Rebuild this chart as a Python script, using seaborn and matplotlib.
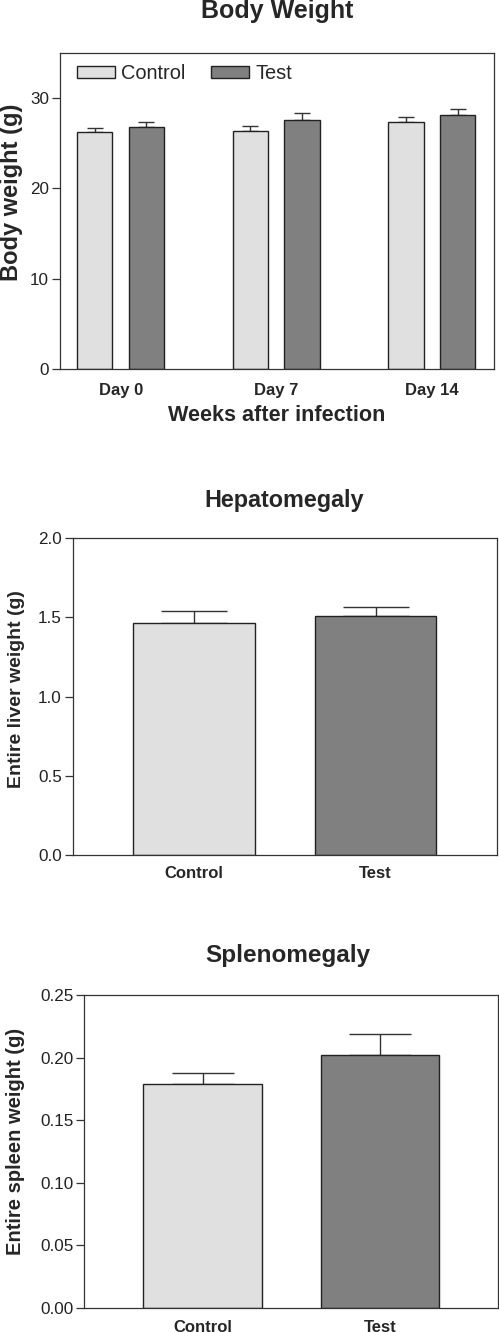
import matplotlib
matplotlib.use("Agg")
import matplotlib.pyplot as plt
import seaborn as sns
import pandas as pd
from matplotlib.ticker import FormatStrFormatter

# ---------------- data ----------------
days = ["Day 0", "Day 7", "Day 14"]
groups = ["Control", "Test"]
bw_control = [26.2, 26.4, 27.35]
bw_test = [26.85, 27.55, 28.15]
bw_control_err = [0.45, 0.5, 0.6]
bw_test_err = [0.55, 0.75, 0.65]

liver_values = [1.463, 1.507]
liver_err = [0.078, 0.059]

spleen_values = [0.179, 0.202]
spleen_err = [0.009, 0.017]

colors = {"Control": "#e0e0e0", "Test": "#808080"}
EDGE = "#222222"

sns.set_style("ticks")
plt.rcParams["font.family"] = ["Liberation Sans", "DejaVu Sans"]
plt.rcParams["axes.edgecolor"] = "#333333"
plt.rcParams["axes.linewidth"] = 0.9

W, H = 499, 1332
fig = plt.figure(figsize=(W / 100, H / 100), dpi=100)


def add_axes_px(x0, y0, x1, y1):
    return fig.add_axes([x0 / W, 1 - y1 / H, (x1 - x0) / W, (y1 - y0) / H])


def add_errs(ax, containers_vals, containers_errs, capsize):
    for cont, vals, errs in zip(ax.containers, containers_vals, containers_errs):
        for bar, v, e in zip(cont, vals, errs):
            xc = bar.get_x() + bar.get_width() / 2
            ax.errorbar([xc], [v], yerr=[[0], [e]], fmt="none", ecolor="#333333",
                        elinewidth=1.0, capsize=capsize, capthick=1.0, zorder=1)


def style_axis(ax):
    for s in ax.spines.values():
        s.set_visible(True)
        s.set_color("#333333")
        s.set_linewidth(0.9)
    ax.tick_params(axis="y", length=5.8, width=0.9, color="#333333", labelsize=12.3, pad=2, labelcolor="#222222")
    ax.tick_params(axis="x", length=0, labelsize=12, pad=9)
    for lab in ax.get_xticklabels():
        lab.set_fontweight("bold")


# ---------------- panel 1: body weight ----------------
df_bw = pd.DataFrame({
    "day": days * 2,
    "group": ["Control"] * 3 + ["Test"] * 3,
    "weight": bw_control + bw_test,
})
ax1 = add_axes_px(60, 53, 494, 369)
sns.barplot(data=df_bw, x="day", y="weight", hue="group", order=days, hue_order=groups,
            palette=colors, width=0.664, gap=0.32, edgecolor=EDGE, linewidth=1.0,
            errorbar=None, saturation=1, ax=ax1, zorder=2)
add_errs(ax1, [bw_control, bw_test], [bw_control_err, bw_test_err], capsize=6.1)
ax1.set_xlim(-0.39, 2.4)
ax1.set_ylim(0, 35)
ax1.set_yticks([0, 10, 20, 30])
ax1.set_xlabel("Weeks after infection", fontsize=15.6, fontweight="bold", labelpad=5)
ax1.set_ylabel("Body weight (g)", fontsize=17, fontweight="bold")
ax1.yaxis.set_label_coords(-0.085, 0.56)
style_axis(ax1)
ax1.tick_params(axis="x", pad=10)
handles, labels = ax1.get_legend_handles_labels()
ax1.legend(handles, labels, loc="center left", bbox_to_anchor=(0.039, 0.935), ncol=2,
           frameon=False, fontsize=14.4, handlelength=1.9, handleheight=0.5,
           handletextpad=0.3, columnspacing=1.3, borderpad=0, borderaxespad=0)
fig.text(277 / W, 1 - 18.3 / H, "Body Weight", ha="center", va="baseline",
         fontsize=18, fontweight="bold")

# ---------------- panel 2: hepatomegaly ----------------
df_liver = pd.DataFrame({"group": groups, "weight": liver_values})
ax2 = add_axes_px(72.7, 538.3, 497, 855)
sns.barplot(data=df_liver, x="group", y="weight", hue="group", order=groups, hue_order=groups,
            palette=colors, width=0.668, edgecolor=EDGE, linewidth=1.0, errorbar=None,
            saturation=1, legend=False, dodge=False, ax=ax2, zorder=2)
add_errs(ax2, [[liver_values[0]], [liver_values[1]]], [[liver_err[0]], [liver_err[1]]], capsize=23.8)
ax2.set_xlim(-0.668, 1.669)
ax2.set_ylim(0, 2.0)
ax2.set_yticks([0, 0.5, 1.0, 1.5, 2.0])
ax2.yaxis.set_major_formatter(FormatStrFormatter("%.1f"))
ax2.set_xlabel("")
ax2.set_ylabel("Entire liver weight (g)", fontsize=14, fontweight="bold")
ax2.yaxis.set_label_coords(-0.112, 0.524)
style_axis(ax2)
ax2.tick_params(axis="x", pad=8)
fig.text(284 / W, 1 - 506.7 / H, "Hepatomegaly", ha="center", va="baseline",
         fontsize=16.8, fontweight="bold")

# ---------------- panel 3: splenomegaly ----------------
df_spleen = pd.DataFrame({"group": groups, "weight": spleen_values})
ax3 = add_axes_px(84, 995, 497.7, 1307.7)
sns.barplot(data=df_spleen, x="group", y="weight", hue="group", order=groups, hue_order=groups,
            palette=colors, width=0.667, edgecolor=EDGE, linewidth=1.0, errorbar=None,
            saturation=1, legend=False, dodge=False, ax=ax3, zorder=2)
add_errs(ax3, [[spleen_values[0]], [spleen_values[1]]], [[spleen_err[0]], [spleen_err[1]]], capsize=22.5)
ax3.set_xlim(-0.668, 1.663)
ax3.set_ylim(0, 0.25)
ax3.set_yticks([0, 0.05, 0.10, 0.15, 0.20, 0.25])
ax3.yaxis.set_major_formatter(FormatStrFormatter("%.2f"))
ax3.set_xlabel("")
ax3.set_ylabel("Entire spleen weight (g)", fontsize=14.5, fontweight="bold")
ax3.yaxis.set_label_coords(-0.1426, 0.531)
style_axis(ax3)
ax3.tick_params(axis="x", pad=8.5)
fig.text(288 / W, 1 - 961.7 / H, "Splenomegaly", ha="center", va="baseline",
         fontsize=17.5, fontweight="bold")

fig.savefig("out.png", dpi=100)
